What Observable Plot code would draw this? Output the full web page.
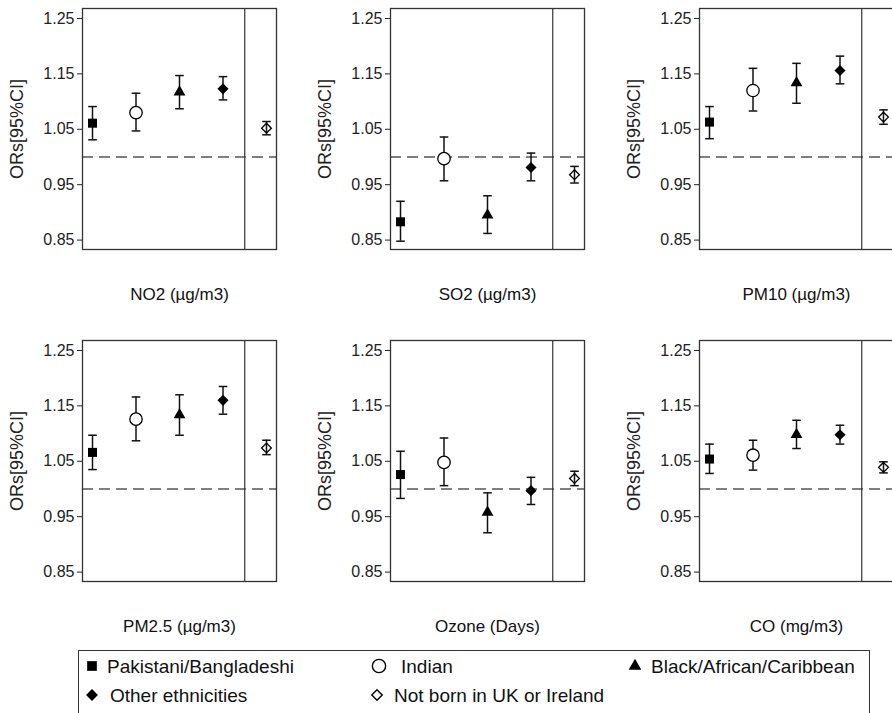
<!DOCTYPE html>
<html><head><meta charset="utf-8">
<script src="https://cdn.jsdelivr.net/npm/d3@7"></script>
<script src="https://cdn.jsdelivr.net/npm/@observablehq/plot@0.6"></script>
<style>
html,body{margin:0;padding:0;background:#fff;overflow:hidden;width:892px;height:713px;}
#root{position:relative;width:892px;height:713px;font-family:"Liberation Sans",Arial,sans-serif;overflow:hidden;}
.panel{position:absolute;width:310px;height:309px;}
.panel svg{max-width:none !important;}
#legend{position:absolute;left:78px;top:650px;width:792px;height:90px;border:1.3px solid #333;box-sizing:border-box;}
.item{position:absolute;font-size:19px;color:#111;white-space:nowrap;line-height:1;}
.sym{position:absolute;}
</style></head><body><div id="root"><div id="legend"></div></div>
<script>
const pollutants = ["NO2 (µg/m3)", "SO2 (µg/m3)", "PM10 (µg/m3)", "PM2.5 (µg/m3)", "Ozone (Days)", "CO (mg/m3)"];
const groups = ["Pakistani/Bangladeshi", "Indian", "Black/African/Caribbean", "Other ethnicities", "Not born in UK or Ireland"];
const orEst = [
  [1.061, 1.080, 1.117, 1.123, 1.052],
  [0.883, 0.997, 0.895, 0.981, 0.968],
  [1.063, 1.120, 1.134, 1.156, 1.072],
  [1.066, 1.126, 1.134, 1.160, 1.074],
  [1.026, 1.048, 0.958, 0.997, 1.019],
  [1.054, 1.061, 1.098, 1.098, 1.039]
];
const ciLow = [
  [1.031, 1.047, 1.087, 1.103, 1.040],
  [0.848, 0.957, 0.862, 0.957, 0.953],
  [1.033, 1.083, 1.097, 1.132, 1.059],
  [1.035, 1.087, 1.097, 1.135, 1.062],
  [0.983, 1.006, 0.921, 0.972, 1.006],
  [1.028, 1.034, 1.073, 1.081, 1.029]
];
const ciHigh = [
  [1.091, 1.115, 1.147, 1.145, 1.064],
  [0.920, 1.036, 0.930, 1.007, 0.983],
  [1.091, 1.160, 1.169, 1.182, 1.085],
  [1.097, 1.166, 1.170, 1.185, 1.088],
  [1.068, 1.092, 0.993, 1.021, 1.032],
  [1.081, 1.088, 1.124, 1.115, 1.049]
];
const yTicks = [0.85, 0.95, 1.05, 1.15, 1.25];
const yLabel = "ORs[95%CI]";
const refLine = 1;

const symbols = ["square", "circle", "triangle", "diamond2", "diamond2"];
const fills = ["#000", "#fff", "#000", "#000", "none"];
const strokes = ["none", "#000", "none", "none", "#000"];
const radii = [5.1, 6.2, 4.4, 5.0, 4.4];

const cap = {draw(ctx) { ctx.moveTo(-4.3, 0); ctx.lineTo(4.3, 0); }};

const root = document.getElementById("root");
const colLeft = [0, 308, 617];
const rowTop = [0, 332];

pollutants.forEach((p, i) => {
  const rows = groups.map((g, j) => ({group: g, pos: j + 1, or: orEst[i][j], lo: ciLow[i][j], hi: ciHigh[i][j]}));
  const split = (groups.length - 1) + 0.5;
  const marks = [
    Plot.ruleY([refLine], {stroke: "#555", strokeWidth: 1.3, strokeDasharray: "11,6"}),
    Plot.ruleX([split], {stroke: "#333", strokeWidth: 1.2}),
    Plot.frame({stroke: "#333", strokeWidth: 1.3}),
    Plot.ruleX(rows, {x: "pos", y1: "lo", y2: "hi", stroke: "#111", strokeWidth: 1.5}),
    Plot.dot(rows, {x: "pos", y: "lo", symbol: cap, r: 3, stroke: "#111", strokeWidth: 1.5}),
    Plot.dot(rows, {x: "pos", y: "hi", symbol: cap, r: 3, stroke: "#111", strokeWidth: 1.5}),
    ...groups.map((g, j) => Plot.dot(rows.filter(d => d.group === g), {
      x: "pos", y: "or", symbol: symbols[j], r: radii[j], fill: fills[j], stroke: strokes[j], strokeWidth: 1.3
    })),
    Plot.text([p], {frameAnchor: "bottom", dy: 45, lineAnchor: "middle", fontSize: 17, fill: "#111"})
  ];
  const svg = Plot.plot({
    width: 310, height: 309,
    marginLeft: 82, marginRight: 34, marginTop: 8, marginBottom: 60,
    style: {fontFamily: '"Liberation Sans", Arial, sans-serif', fontSize: "16px", color: "#222", background: "transparent", overflow: "visible", maxWidth: "none"},
    x: {domain: [0.77, 5.23], axis: null},
    y: {domain: [0.833, 1.268], ticks: yTicks, tickFormat: d => d.toFixed(2), tickSize: 5, tickPadding: 3,
        label: yLabel, labelAnchor: "center", labelOffset: 72, labelArrow: "none"},
    marks
  });
  const wrap = document.createElement("div");
  wrap.className = "panel";
  wrap.style.left = colLeft[i % 3] + "px";
  wrap.style.top = rowTop[Math.floor(i / 3)] + "px";
  wrap.appendChild(svg);
  root.insertBefore(wrap, document.getElementById("legend"));
  d3.select(svg).selectAll('[aria-label="y-axis label"] text').style("font-size", "18px");
});

// legend
const legend = document.getElementById("legend");
const legendPos = [[13, 15], [300, 15], [556, 15], [13, 44], [298, 44]];
const textGap = [15, 22, 16, 18, 17];
groups.forEach((g, j) => {
  const s = d3.create("svg").attr("class", "sym").attr("width", 20).attr("height", 20)
    .style("left", (legendPos[j][0] - 10) + "px").style("top", (legendPos[j][1] - 10) + "px");
  const size = Math.PI * radii[j] * radii[j] * 1.15;
  const symMap = {square: d3.symbolSquare, circle: d3.symbolCircle, triangle: d3.symbolTriangle, diamond2: d3.symbolDiamond2};
  s.append("path").attr("transform", "translate(10,10)")
    .attr("d", d3.symbol(symMap[symbols[j]], size)())
    .attr("fill", fills[j]).attr("stroke", strokes[j]).attr("stroke-width", 1.4);
  legend.appendChild(s.node());
  const t = document.createElement("div");
  t.className = "item";
  t.textContent = g;
  t.style.left = (legendPos[j][0] + textGap[j]) + "px";
  t.style.top = (legendPos[j][1] - 9) + "px";
  legend.appendChild(t);
});
</script></body></html>
